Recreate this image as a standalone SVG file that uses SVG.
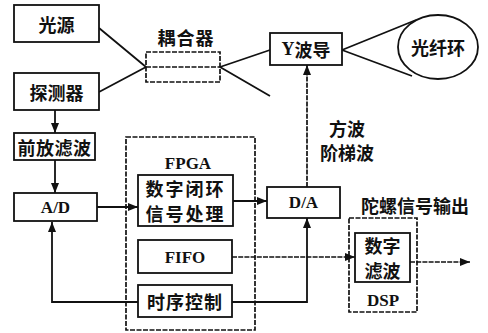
<svg xmlns="http://www.w3.org/2000/svg" width="488" height="333" viewBox="0 0 488 333">
<style>
.b{fill:#fff;stroke:#111;stroke-width:1.8}
.d{fill:none;stroke:#111;stroke-width:1.7;stroke-dasharray:5 1.5}
.l{fill:none;stroke:#111;stroke-width:1.8}
.ld{fill:none;stroke:#111;stroke-width:1.7;stroke-dasharray:5 1.2}
.c{font-family:"Noto Sans CJK SC","Noto Sans CJK JP",sans-serif;font-weight:bold;font-size:18px;fill:#111;text-anchor:middle;dominant-baseline:central}
.e{font-family:"Liberation Serif","Times New Roman",serif;font-weight:bold;font-size:17px;fill:#111;text-anchor:middle;dominant-baseline:central}
</style>
<defs>
<marker id="a" viewBox="0 0 10 8" refX="10" refY="4" markerWidth="10" markerHeight="8" markerUnits="userSpaceOnUse" orient="auto"><path d="M0,0L10,4L0,8z" fill="#111"/></marker>
</defs>
<rect width="488" height="333" fill="#fff"/>
<g id="connectors">
<path class="l" d="M99,28L146,67M99,92L146,67"/>
<path class="l" d="M220,67L270,50M220,67L270,96"/>
<path class="l" d="M342,50L416,20M342,50L412,76"/>
<path class="l" d="M55,110V133" marker-end="url(#a)"/>
<path class="l" d="M55,160V193" marker-end="url(#a)"/>
<path class="l" d="M97,207H138" marker-end="url(#a)"/>
<path class="l" d="M233,201H267" marker-end="url(#a)"/>
<path class="ld" d="M307,187V65" marker-end="url(#a)"/>
<path class="ld" d="M232,257H355" marker-end="url(#a)"/>
<path class="ld" d="M410,262H470" marker-end="url(#a)"/>
<path class="l" d="M138,302H52V222" marker-end="url(#a)"/>
<path class="l" d="M232,302H307V218" marker-end="url(#a)"/>
</g>
<g id="guangyuan"><rect class="b" x="14" y="5" width="85" height="37"/><text class="c" x="56.5" y="24">光源</text></g>
<g id="tanceqi"><rect class="b" x="14" y="73" width="85" height="37"/><text class="c" x="56.5" y="92">探测器</text></g>
<g id="ouheqi"><text class="c" x="186" y="37" letter-spacing="1">耦合器</text><rect class="d" x="146" y="52" width="74" height="30"/><line class="d" x1="146" y1="67" x2="220" y2="67"/></g>
<g id="ybodao"><rect class="b" x="270" y="33" width="72" height="32"/><text class="c" x="306" y="49"><tspan font-family="Liberation Serif,serif">Y</tspan>波导</text></g>
<g id="guangxianhuan"><ellipse class="b" cx="438" cy="47" rx="40" ry="32"/><text class="c" x="438" y="47">光纤环</text></g>
<g id="qianfang"><rect class="b" x="14" y="133" width="81" height="27"/><text class="c" x="54.5" y="146.5" letter-spacing="0.5">前放滤波</text></g>
<g id="ad"><rect class="b" x="14" y="193" width="83" height="28"/><text class="e" x="55.5" y="207">A/D</text></g>
<g id="fpga"><rect class="d" x="126" y="137" width="129" height="193"/><text class="e" x="188" y="163">FPGA</text>
<rect class="b" x="138" y="175" width="95" height="51"/><text class="c" x="185.5" y="188" font-size="17" letter-spacing="2">数字闭环</text><text class="c" x="185.5" y="213" font-size="17" letter-spacing="2">信号处理</text>
<rect class="b" x="138" y="240" width="94" height="33"/><text class="e" x="185" y="257">FIFO</text>
<rect class="b" x="138" y="285" width="94" height="32"/><text class="c" x="185" y="301" font-size="18" letter-spacing="1">时序控制</text></g>
<g id="da"><rect class="b" x="267" y="187" width="73" height="31"/><text class="e" x="303.5" y="202.5">D/A</text></g>
<g id="bolabel"><text class="c" x="347" y="128">方波</text><text class="c" x="347" y="152">阶梯波</text></g>
<g id="output"><text class="c" x="415" y="205" font-size="18.5">陀螺信号输出</text></g>
<g id="dsp"><rect class="d" x="349" y="218" width="68" height="94"/><rect class="b" x="355" y="233" width="55" height="49"/><text class="c" x="382.5" y="245" font-size="17">数字</text><text class="c" x="382.5" y="270" font-size="17">滤波</text><text class="e" x="383" y="300">DSP</text></g>
</svg>
